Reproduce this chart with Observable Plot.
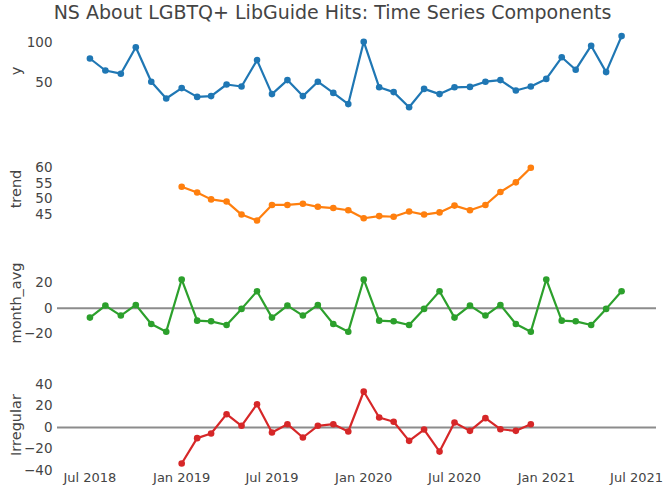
<!DOCTYPE html>
<html><head><meta charset="utf-8">
<script src="https://cdn.jsdelivr.net/npm/d3@7"></script>
<script src="https://cdn.jsdelivr.net/npm/@observablehq/plot@0.6"></script>
<style>
body{margin:0;background:#fff;}
#wrap{position:relative;width:665px;height:487px;overflow:hidden;font-family:"DejaVu Sans",Verdana,sans-serif;color:#444;}
#title{position:absolute;left:0;top:0;width:665px;text-align:center;font-size:19px;line-height:24px;}
.panel{position:absolute;left:0;}
.ylab{position:absolute;font-size:14.5px;white-space:nowrap;transform:translate(-50%,-50%) rotate(-90deg);}
</style></head><body>
<div id="wrap"><div id="title">NS About LGBTQ+ LibGuide Hits: Time Series Components</div></div>
<script>
const months = ["2018-07","2018-08","2018-09","2018-10","2018-11","2018-12",
  "2019-01","2019-02","2019-03","2019-04","2019-05","2019-06",
  "2019-07","2019-08","2019-09","2019-10","2019-11","2019-12",
  "2020-01","2020-02","2020-03","2020-04","2020-05","2020-06",
  "2020-07","2020-08","2020-09","2020-10","2020-11","2020-12",
  "2021-01","2021-02","2021-03","2021-04","2021-05","2021-06"];
const yValues = [80,65,61,94,51,30,43,32,33,47.5,45,78,35.5,53,33,51,37,23,101,44,38,19,42,35.5,44,44.5,51,53,40,45,54.5,81.5,66,96,63,108];
const trendValues = [null,null,null,null,null,null,
  53.9,52,49.8,49.1,44.9,43,48,48,48.4,47.4,47,46.3,43.7,44.4,44.2,45.9,44.9,45.6,
  47.8,46.3,48,52.2,55.3,60,null,null,null,null,null,null];
const monthAvgValues = [-7.3,2.1,-5.7,2.6,-12.3,-18.3,22.5,-9.7,-10.2,-13.1,-0.5,13.3,
  -7.3,2.1,-5.7,2.6,-12.3,-18.3,22.5,-9.7,-10.2,-13.1,-0.5,13.3,
  -7.3,2.1,-5.7,2.6,-12.3,-18.3,22.5,-9.7,-10.2,-13.1,-0.5,13.3];
const irregularValues = [null,null,null,null,null,null,
  -33.5,-9.9,-5.6,12.4,1.6,21.7,-4.7,3.1,-9.3,1.6,3.1,-3.7,33.5,9.3,5.3,-12.4,-1.9,-22.4,
  4.7,-3.1,8.7,-1.6,-3.1,3.1,null,null,null,null,null,null];
const xTicks = ["2018-07","2019-01","2019-07","2020-01","2020-07","2021-01","2021-07"];
const xDomain = ["2018-04-27","2021-08-10"];

const parse = d3.utcParse("%Y-%m");
const dates = months.map(parse);
const fmt = d3.utcFormat("%b %Y");

const panels = [
  {name:"y", values:yValues, color:"#1f77b4", top:28, height:88, mb:0, domain:[7.5,117.5], ticks:[50,100], zero:false, labY:71},
  {name:"trend", values:trendValues, color:"#ff7f0e", top:158, height:70, mb:0, domain:[40.4,63], ticks:[45,50,55,60], zero:false, labY:189},
  {name:"month_avg", values:monthAvgValues, color:"#2ca02c", top:265, height:85, mb:0, domain:[-33,33.4], ticks:[-20,0,20], zero:true, labY:303},
  {name:"Irregular", values:irregularValues, color:"#d62728", top:375, height:112, mb:17, domain:[-40,48.4], ticks:[-40,-20,0,20,40], zero:true, labY:425}
];

const wrap = document.getElementById("wrap");
panels.forEach((p, i) => {
  const data = dates.map((d, k) => ({date:d, v:p.values[k]}));
  const last = i === panels.length - 1;
  const marks = [];
  if (p.zero) marks.push(Plot.ruleY([0], {stroke:"#8c8c8c", strokeWidth:2}));
  marks.push(Plot.line(data.filter(d => d.v != null), {x:"date", y:"v", stroke:p.color, strokeWidth:2.2}));
  marks.push(Plot.dot(data.filter(d => d.v != null), {x:"date", y:"v", fill:p.color, r:3.3}));
  marks.push(Plot.axisY({ticks:p.ticks, tickSize:0, tickPadding:5, label:null, fontSize:13.5, tickFormat:d=>String(d).replace("-","\u2212")}));
  if (last) marks.push(Plot.axisX({ticks:xTicks.map(parse), tickSize:0, tickPadding:2, label:null, fontSize:13, tickFormat:fmt}));
  const svg = Plot.plot({
    width:665, height:p.height,
    marginLeft:57, marginRight:9, marginTop:0, marginBottom:p.mb,
    x:{type:"utc", domain:xDomain.map(d3.utcParse("%Y-%m-%d")), axis:null},
    y:{domain:p.domain, axis:null},
    style:{fontFamily:'"DejaVu Sans",Verdana,sans-serif', color:"#444", background:"transparent", overflow:"visible"},
    marks
  });
  svg.classList.add("panel");
  svg.style.top = p.top + "px";
  wrap.appendChild(svg);
  const lab = document.createElement("div");
  lab.className = "ylab";
  lab.textContent = p.name;
  lab.style.left = "16px";
  lab.style.top = p.labY + "px";
  wrap.appendChild(lab);
});
</script>
</body></html>
